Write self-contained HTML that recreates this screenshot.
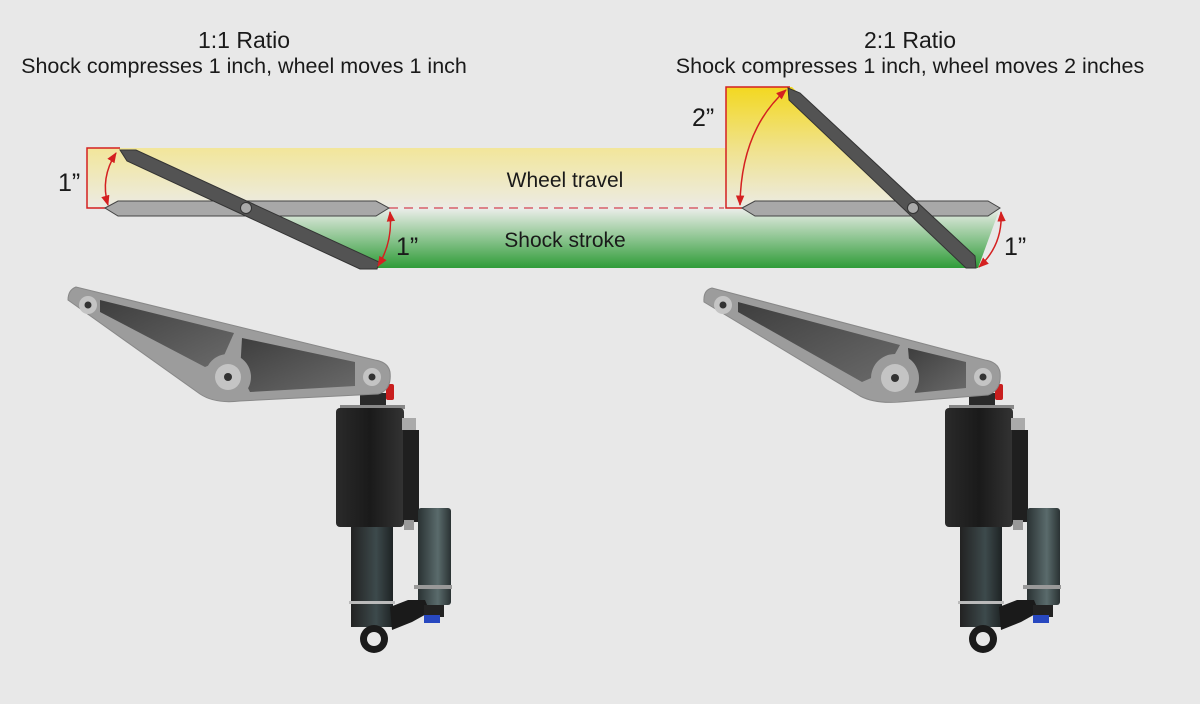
<!DOCTYPE html>
<html><head><meta charset="utf-8"><style>
html,body{margin:0;padding:0;background:#e8e8e8;}
svg{display:block}
text{font-family:"Liberation Sans",sans-serif;fill:#1a1a1a}
</style></head><body>
<svg width="1200" height="704" viewBox="0 0 1200 704" xmlns="http://www.w3.org/2000/svg">
<defs>
<linearGradient id="yel" x1="0" y1="0" x2="0" y2="1">
<stop offset="0" stop-color="#f2e69a"/><stop offset="1" stop-color="#ecebe4"/></linearGradient>
<linearGradient id="yel2" x1="0" y1="87" x2="0" y2="208" gradientUnits="userSpaceOnUse">
<stop offset="0" stop-color="#f3d820"/><stop offset="0.5" stop-color="#f0e28a"/><stop offset="1" stop-color="#ecebe4"/></linearGradient>
<linearGradient id="grn" x1="0" y1="0" x2="0" y2="1">
<stop offset="0" stop-color="#eceeea"/><stop offset="1" stop-color="#2f9c38"/></linearGradient>
<linearGradient id="body" x1="0" y1="0" x2="1" y2="0">
<stop offset="0" stop-color="#2a2a2a"/><stop offset="0.5" stop-color="#1a1a1a"/><stop offset="1" stop-color="#333"/></linearGradient>
<linearGradient id="tube" x1="0" y1="0" x2="1" y2="0">
<stop offset="0" stop-color="#222"/><stop offset="0.6" stop-color="#3d4a4c"/><stop offset="1" stop-color="#1e2324"/></linearGradient>
<linearGradient id="res" x1="0" y1="0" x2="1" y2="0">
<stop offset="0" stop-color="#2a3233"/><stop offset="0.6" stop-color="#5a6b6c"/><stop offset="1" stop-color="#2a3233"/></linearGradient>
<linearGradient id="cut" x1="0" y1="0" x2="1" y2="1">
<stop offset="0" stop-color="#3e3e3e"/><stop offset="1" stop-color="#6a6a6a"/></linearGradient>
<marker id="ah" viewBox="0 0 10 10" refX="9" refY="5" markerWidth="7" markerHeight="7" orient="auto-start-reverse">
<path d="M0,1 L10,5 L0,9 z" fill="#d42020"/></marker>
<g id="shock">
<rect x="360" y="393" width="26" height="14" fill="#2a2a2a"/>
<rect x="386" y="384" width="8" height="16" rx="2" fill="#c81e1e"/>
<rect x="340" y="405" width="65" height="4" fill="#888"/>
<rect x="336" y="408" width="68" height="119" rx="4" fill="url(#body)"/>
<rect x="402" y="418" width="14" height="12" fill="#aaa"/>
<rect x="403" y="430" width="16" height="92" fill="#1f1f1f"/>
<rect x="404" y="520" width="10" height="10" fill="#999"/>
<rect x="351" y="527" width="42" height="100" fill="url(#tube)"/>
<rect x="349" y="601" width="46" height="3" fill="#bbb"/>
<rect x="418" y="508" width="33" height="97" rx="3" fill="url(#res)"/>
<rect x="414" y="585" width="38" height="4" fill="#999"/>
<path d="M390,607 L408,600 L425,600 L430,612 L412,622 L392,630 Z" fill="#1a1a1a"/>
<rect x="424" y="605" width="20" height="12" fill="#222"/>
<rect x="424" y="615" width="16" height="8" fill="#2848c0"/>
<circle cx="374" cy="639" r="14" fill="#1b1b1b"/>
<circle cx="374" cy="639" r="7" fill="#e8e8e8"/>
</g>
</defs>

<!-- titles -->
<text x="244" y="48" font-size="23" text-anchor="middle">1:1 Ratio</text>
<text x="244" y="73" font-size="21.5" text-anchor="middle">Shock compresses 1 inch, wheel moves 1 inch</text>
<text x="910" y="48" font-size="23" text-anchor="middle">2:1 Ratio</text>
<text x="910" y="73" font-size="21.5" text-anchor="middle">Shock compresses 1 inch, wheel moves 2 inches</text>

<!-- bands -->
<rect x="87" y="148" width="639" height="60" fill="url(#yel)"/>
<polygon points="726,87 792,87 913,208 726,208" fill="url(#yel2)"/>
<polygon points="245,208 1000,208 978,268 375,268" fill="url(#grn)"/>

<!-- red guides -->
<path d="M120,148 H87 V208 H106" fill="none" stroke="#d42020" stroke-width="1.5"/>
<path d="M790,87 H726 V208 H742" fill="none" stroke="#d42020" stroke-width="1.5"/>
<line x1="389" y1="208" x2="724" y2="208" stroke="#d8606a" stroke-width="1.5" stroke-dasharray="9,6"/>

<!-- horizontal bars -->
<polygon points="105,208 118,201 376,201 389,208 376,216 118,216" fill="#a8a8a8" stroke="#444" stroke-width="1"/>
<polygon points="742,208 755,201 988,201 1000,208 988,216 755,216" fill="#a8a8a8" stroke="#444" stroke-width="1"/>

<!-- levers -->
<polygon points="120,150 136,150 379,262 377,269 360,269 127,161" fill="#535353" stroke="#333" stroke-width="1"/>
<circle cx="246" cy="208" r="5.5" fill="#aaa" stroke="#333"/>
<polygon points="788,88 800,93 975,256 976,268 966,268 789,100" fill="#535353" stroke="#333" stroke-width="1"/>
<circle cx="913" cy="208" r="5.5" fill="#aaa" stroke="#333"/>

<!-- arc arrows -->
<path d="M116,153 Q100,178 108,205" fill="none" stroke="#d42020" stroke-width="1.5" marker-start="url(#ah)" marker-end="url(#ah)"/>
<path d="M390,212 Q393,242 378,266" fill="none" stroke="#d42020" stroke-width="1.5" marker-start="url(#ah)" marker-end="url(#ah)"/>
<path d="M786,90 Q741,130 740,205" fill="none" stroke="#d42020" stroke-width="1.5" marker-start="url(#ah)" marker-end="url(#ah)"/>
<path d="M1001,212 Q1003,245 979,267" fill="none" stroke="#d42020" stroke-width="1.5" marker-start="url(#ah)" marker-end="url(#ah)"/>

<!-- labels -->
<text x="58" y="191" font-size="25">1”</text>
<text x="396" y="255" font-size="25">1”</text>
<text x="692" y="126" font-size="25">2”</text>
<text x="1004" y="255" font-size="25">1”</text>
<text x="565" y="187" font-size="21" text-anchor="middle">Wheel travel</text>
<text x="565" y="247" font-size="21" text-anchor="middle">Shock stroke</text>

<!-- shocks -->
<use href="#shock"/>
<use href="#shock" transform="translate(609,0)"/>

<!-- left linkage -->
<path d="M76,287 Q68,290 68,300 L200,394 Q215,404 240,401 L378,394 Q392,390 390,372 Q388,362 375,360 Z" fill="#9c9c9c" stroke="#888"/>
<polygon points="100,300 234,333 222,360 205,367 100,312" fill="url(#cut)"/>
<polygon points="242,338 355,362 355,386 250,392 240,372" fill="url(#cut)"/>
<circle cx="228" cy="377" r="23" fill="#9c9c9c"/>
<circle cx="228" cy="377" r="13" fill="#c4c4c4"/>
<circle cx="228" cy="377" r="4" fill="#333"/>
<circle cx="88" cy="305" r="9" fill="#c4c4c4"/><circle cx="88" cy="305" r="3.5" fill="#333"/>
<circle cx="372" cy="377" r="9" fill="#c4c4c4"/><circle cx="372" cy="377" r="3.5" fill="#333"/>

<!-- right linkage -->
<path d="M712,288 Q703,290 704,302 L860,396 Q875,404 900,402 L988,395 Q1002,390 1000,372 Q998,362 985,360 Z" fill="#9c9c9c" stroke="#888"/>
<polygon points="738,302 900,345 885,372 862,382 738,312" fill="url(#cut)"/>
<polygon points="908,348 966,362 966,388 915,393 910,372" fill="url(#cut)"/>
<circle cx="895" cy="378" r="24" fill="#9c9c9c"/>
<circle cx="895" cy="378" r="14" fill="#c4c4c4"/>
<circle cx="895" cy="378" r="4" fill="#333"/>
<circle cx="723" cy="305" r="9" fill="#c4c4c4"/><circle cx="723" cy="305" r="3.5" fill="#333"/>
<circle cx="983" cy="377" r="9" fill="#c4c4c4"/><circle cx="983" cy="377" r="3.5" fill="#333"/>
</svg>
</body></html>
